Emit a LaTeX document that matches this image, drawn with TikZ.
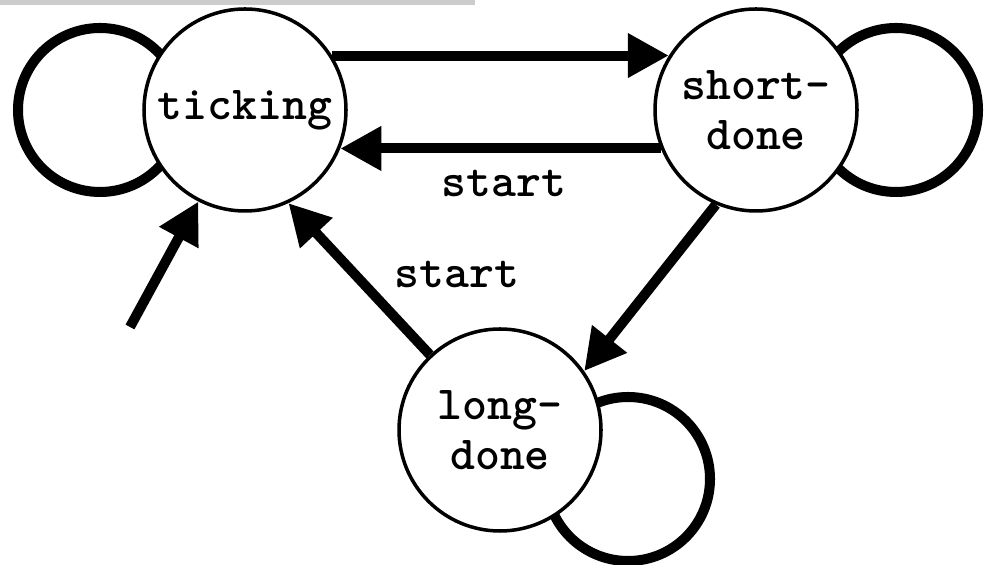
\documentclass[tikz,border=0pt]{standalone}
\usepackage{fontspec}
\usetikzlibrary{arrows.meta,calc,backgrounds}

\newcommand\statefont{\fontsize{27}{28.4}\selectfont\ttfamily\bfseries}

\begin{document}
\begin{tikzpicture}[
    state/.style={circle,draw,line width=2pt,fill=white,minimum size=4.04cm,inner sep=0pt,align=center,font=\statefont},
    trans/.style={line width=5.7pt,-{Triangle[length=0.82cm,width=0.84cm]}},
    selfloop/.style={line width=5.7pt},
    lbl/.style={font=\statefont,anchor=base}
  ]
  \useasboundingbox (0,0) rectangle (19.7,11.3);
  \fill[black!20] (0,11.2) rectangle (9.5,11.3);

  % states
  \node[state] (tick) at (4.9,9.1) {ticking};
  \node[state] (short) at (15.12,9.1) {short-\\done};
  \node[state] (long) at (10.0,2.7) {long-\\done};

  % self loops, behind the states
  \begin{scope}[on background layer]
    \draw[selfloop] ($(tick)+(-2.9,0)$) circle (1.64);
    \draw[selfloop] ($(short)+(2.8,0)$) circle (1.64);
    \draw[selfloop] ($(long)+(2.56,-0.98)$) circle (1.64);
  \end{scope}

  % transitions
  \draw[trans] (tick.32) -- (short.148);
  \draw[trans] (short.-158) -- (tick.-22);
  \draw[trans] (short.-113) -- (long.35);
  \draw[trans] (long.133) -- (tick.-65);

  \coordinate (init) at (2.6,4.76);
  \draw[trans] (init) -- (tick.-117);

  \node[lbl] (startA) at (10.08,7.36) {start};
  \node[lbl] (startB) at (9.14,5.54) {start};
\end{tikzpicture}
\end{document}
